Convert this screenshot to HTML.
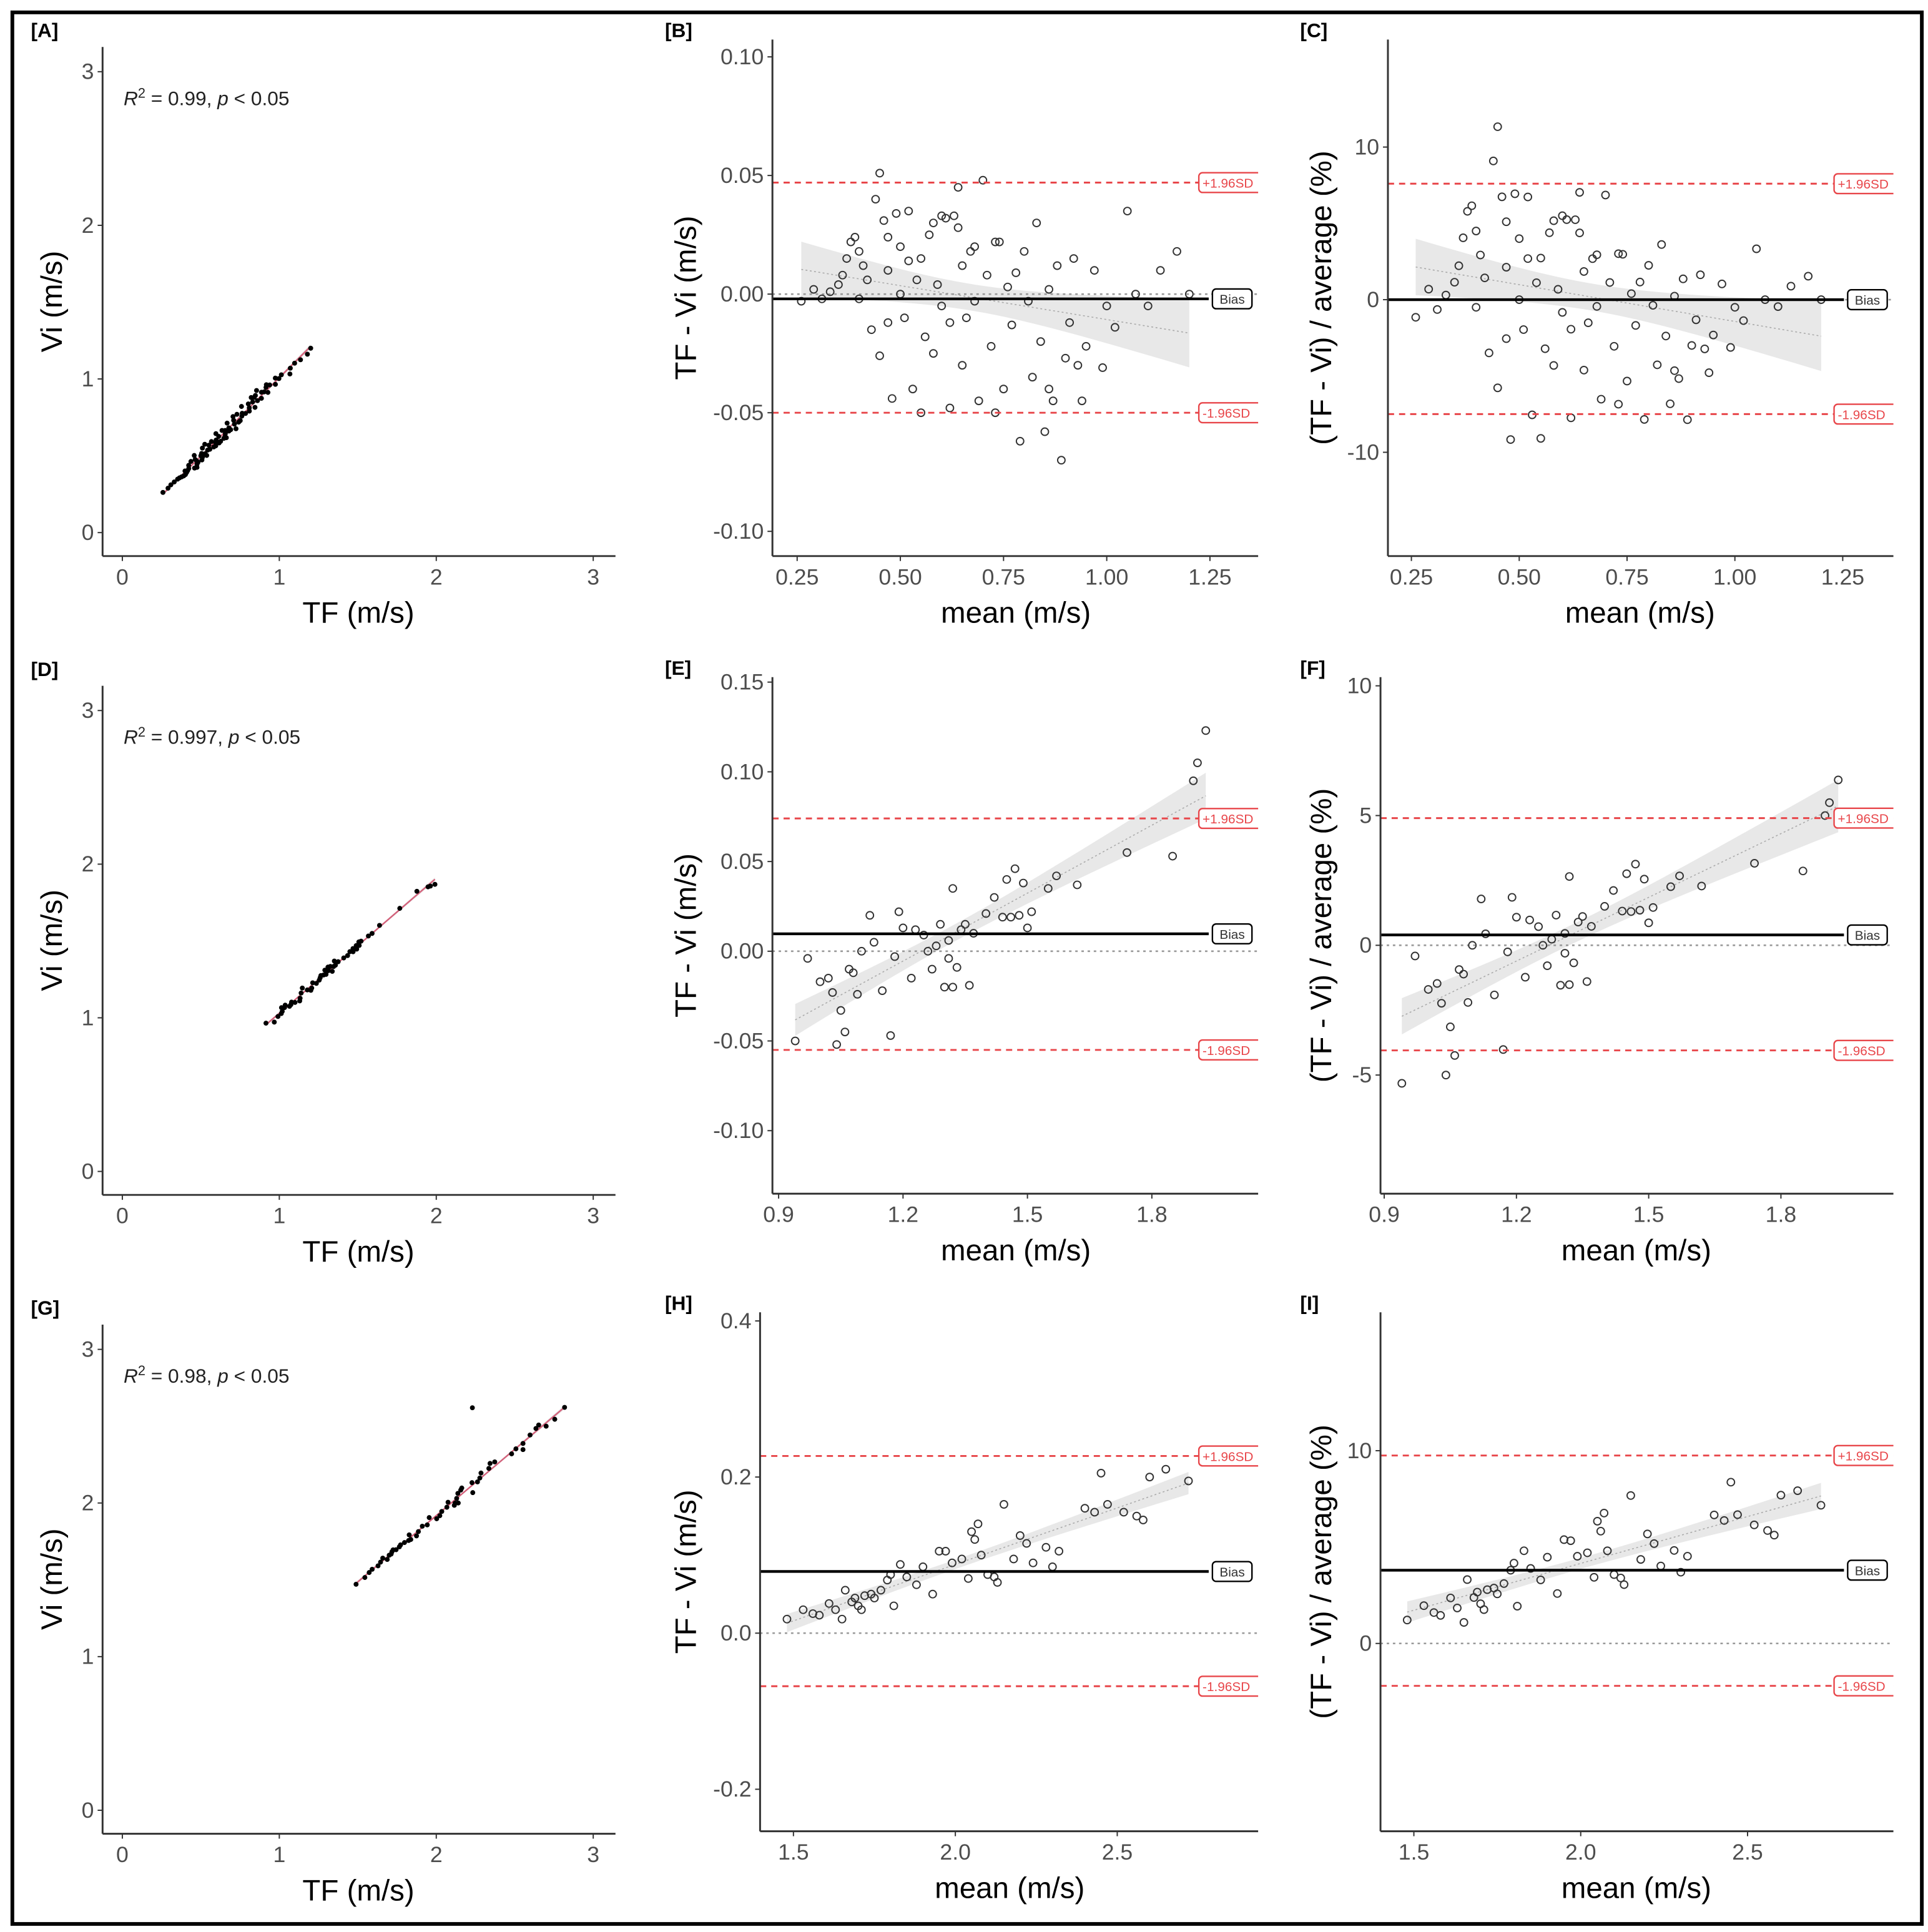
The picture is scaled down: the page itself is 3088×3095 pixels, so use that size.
<!DOCTYPE html>
<html><head><meta charset="utf-8"><style>
html,body{margin:0;padding:0;background:#fff;}
svg{display:block;font-family:"Liberation Sans",sans-serif;}
</style></head><body>
<svg id="fig" width="3088" height="3095" viewBox="0 0 1560 1563.5" xmlns="http://www.w3.org/2000/svg">
<rect x="10" y="10" width="1545" height="1547" fill="#fff" stroke="#000" stroke-width="3"/>
</svg>
<script>
// ---- data (mean, difference) ----
const bMean = [0.26,0.29,0.31,0.33,0.35,0.36,0.37,0.38,0.39,0.40,0.40,0.41,0.42,0.43,0.44,0.45,0.45,0.46,0.47,0.47,0.48,0.49,0.50,0.50,0.51,0.52,0.53,0.54,0.55,0.56,0.57,0.58,0.59,0.60,0.61,0.62,0.62,0.63,0.64,0.65,0.65,0.66,0.67,0.68,0.69,0.70,0.71,0.72,0.73,0.74,0.75,0.76,0.77,0.78,0.79,0.80,0.81,0.82,0.83,0.84,0.85,0.86,0.87,0.88,0.89,0.90,0.91,0.92,0.93,0.95,0.97,0.99,1.00,1.02,1.05,1.07,1.10,1.13,1.17,1.20,0.55,0.60,0.68,0.73,0.47,0.52,0.58,0.64,0.86,0.94];
const bDiff = [-0.003,0.002,-0.002,0.001,0.004,0.008,0.015,0.022,0.024,0.018,-0.002,0.012,0.006,-0.015,0.040,0.051,-0.026,0.031,0.010,-0.012,-0.044,0.034,0.020,0.000,-0.010,0.035,-0.040,0.006,0.015,-0.018,0.025,0.030,0.004,0.033,0.032,-0.048,-0.012,0.033,0.045,0.012,-0.030,-0.010,0.018,-0.003,-0.045,0.048,0.008,-0.022,0.022,0.022,-0.040,0.003,-0.013,0.009,-0.062,0.018,-0.003,-0.035,0.030,-0.020,-0.058,0.002,-0.045,0.012,-0.070,-0.027,-0.012,0.015,-0.030,-0.022,0.010,-0.031,-0.005,-0.014,0.035,0.000,-0.005,0.010,0.018,0.000,-0.050,-0.005,0.020,-0.050,0.024,0.014,-0.025,0.028,-0.040,-0.045];
const eMean = [0.94,0.97,1.00,1.02,1.03,1.04,1.05,1.06,1.07,1.08,1.09,1.10,1.12,1.13,1.15,1.17,1.18,1.19,1.20,1.22,1.23,1.25,1.26,1.27,1.28,1.29,1.30,1.31,1.32,1.33,1.34,1.35,1.36,1.37,1.40,1.42,1.45,1.46,1.47,1.48,1.49,1.50,1.51,1.55,1.57,1.62,1.74,1.85,1.90,1.91,1.93,1.32,1.44,1.31];
const eDiff = [-0.050,-0.004,-0.017,-0.015,-0.023,-0.052,-0.033,-0.045,-0.010,-0.012,-0.024,0.000,0.020,0.005,-0.022,-0.047,-0.003,0.022,0.013,-0.015,0.012,0.009,0.000,-0.010,0.003,0.015,-0.020,0.006,0.035,-0.009,0.012,0.015,-0.019,0.010,0.021,0.030,0.040,0.019,0.046,0.020,0.038,0.013,0.022,0.035,0.042,0.037,0.055,0.053,0.095,0.105,0.123,-0.020,0.019,-0.004];
const hMean = [1.48,1.53,1.56,1.58,1.61,1.63,1.65,1.66,1.68,1.69,1.70,1.71,1.72,1.74,1.75,1.77,1.79,1.80,1.81,1.83,1.85,1.88,1.90,1.93,1.95,1.97,1.99,2.02,2.04,2.05,2.07,2.08,2.10,2.12,2.13,2.15,2.18,2.20,2.22,2.24,2.28,2.30,2.32,2.40,2.43,2.45,2.47,2.52,2.56,2.58,2.60,2.65,2.72,2.06];
const hDiff = [0.018,0.030,0.025,0.023,0.038,0.030,0.018,0.055,0.040,0.045,0.035,0.030,0.048,0.050,0.045,0.055,0.068,0.075,0.035,0.088,0.072,0.062,0.085,0.050,0.105,0.105,0.090,0.095,0.070,0.130,0.140,0.100,0.075,0.072,0.065,0.165,0.095,0.125,0.115,0.090,0.110,0.085,0.105,0.160,0.155,0.205,0.165,0.155,0.150,0.145,0.200,0.210,0.195,0.120];
const gOutlierTF = [2.23];
const gOutlierVi = [2.62];
// limits of agreement [bias, +1.96SD, -1.96SD]
const limB = [-0.002, 0.047, -0.050];
const limC = [0.0, 7.6, -7.5];
const limE = [0.0097, 0.074, -0.055];
const limF = [0.4, 4.9, -4.05];
const limH = [0.079, 0.227, -0.068];
const limI = [3.8, 9.75, -2.2];
const r2Labels = ["0.99","0.997","0.98"];
const xTicksA = [0,1,2,3], yTicksA = [0,1,2,3];
const xTicksB = [0.25,0.50,0.75,1.00,1.25], yTicksB = [-0.10,-0.05,0.00,0.05,0.10];
const yTicksC = [-10,0,10];
const xTicksE = [0.9,1.2,1.5,1.8], yTicksE = [-0.10,-0.05,0.00,0.05,0.10,0.15];
const yTicksF = [-5,0,5,10];
const xTicksH = [1.5,2.0,2.5], yTicksH = [-0.2,0.0,0.2,0.4];
const yTicksI = [0,10];

const NS="http://www.w3.org/2000/svg";
const svg=document.getElementById('fig');
function mk(tag,attrs,parent,text){const e=document.createElementNS(NS,tag);for(const k in attrs)e.setAttribute(k,attrs[k]);if(text!==undefined)e.textContent=text;(parent||svg).appendChild(e);return e;}
function lin(v0,p0,v1,p1){return v=>p0+(v-v0)*(p1-p0)/(v1-v0);}
function fit(xs,ys){const n=xs.length;let mx=0,my=0;for(let i=0;i<n;i++){mx+=xs[i];my+=ys[i];}mx/=n;my/=n;let sxx=0,sxy=0;for(let i=0;i<n;i++){sxx+=(xs[i]-mx)**2;sxy+=(xs[i]-mx)*(ys[i]-my);}const b=sxy/sxx,a=my-b*mx;let ss=0;for(let i=0;i<n;i++)ss+=(ys[i]-a-b*xs[i])**2;const s=Math.sqrt(ss/(n-2));return {a,b,s,mx,sxx,n};}
let clipId=0;
function panel(P){
  const g=mk('g',{});
  
  
  const X=lin(P.xs[0],P.xs[1],P.xs[2],P.xs[3]), Y=lin(P.ys[0],P.ys[1],P.ys[2],P.ys[3]);
  const cid='clip'+(clipId++);
  const cp=mk('clipPath',{id:cid},g);mk('rect',{x:P.left,y:P.top,width:P.right-P.left,height:P.bottom-P.top},cp);
  const plot=mk('g',{'clip-path':'url(#'+cid+')'},g);
  // regression band
  if(P.fx){
    const f=fit(P.fx,P.fy);const lo=Math.min(...P.fx),hi=Math.max(...P.fx);
    let up=[],dn=[];
    for(let k=0;k<=40;k++){const x=lo+(hi-lo)*k/40;const yh=f.a+f.b*x;const se=1.97*f.s*Math.sqrt(1/f.n+(x-f.mx)**2/f.sxx);up.push(X(x)+','+Y(yh+se));dn.unshift(X(x)+','+Y(yh-se));}
    const band=mk('polygon',{points:up.concat(dn).join(' '),fill:'#d9d9d9','fill-opacity':0.6},plot);
    
    
    const rl=mk('line',{x1:X(lo),y1:Y(f.a+f.b*lo),x2:X(hi),y2:Y(f.a+f.b*hi),stroke:P.scatter?'#d4607a':'#aaa','stroke-width':P.scatter?1.2:0.8,'stroke-dasharray':P.scatter?'':'1.5,2'},plot);
    
    
  }
  if(P.lim){
    const z=mk('line',{x1:P.left,x2:P.right,y1:Y(0),y2:Y(0),stroke:'#999','stroke-width':1.3,'stroke-dasharray':'2,3'},plot);
    
    
  }
  // points
  for(let i=0;i<P.px.length;i++){
    const c=P.scatter?mk('circle',{cx:X(P.px[i]),cy:Y(P.py[i]),r:2,fill:'#000'},plot):mk('circle',{cx:X(P.px[i]),cy:Y(P.py[i]),r:3,fill:'none',stroke:'#333','stroke-width':1},plot);
    
    
  }
  if(P.lim){
    const [bias,up,dn]=P.lim;
    const bl=mk('line',{x1:P.left,x2:P.right-40,y1:Y(bias),y2:Y(bias),stroke:'#000','stroke-width':2.2},plot);
    
    
    [[up,'+1.96SD','upper-limit'],[dn,'-1.96SD','lower-limit']].forEach(([v,t,n])=>{
      const l=mk('line',{x1:P.left,x2:P.right,y1:Y(v),y2:Y(v),stroke:'#e8464a','stroke-width':1.5,'stroke-dasharray':'5,4'},plot);
      
      
      mk('rect',{x:P.right-48,y:Y(v)-8,width:60,height:16,rx:3,fill:'#fff',stroke:'#e8464a','stroke-width':1.2},plot);
      const tx=mk('text',{x:P.right-45,y:Y(v)+4,'font-size':10.5,fill:'#e8464a'},plot,t);
      
      
    });
    mk('rect',{x:P.right-37,y:Y(bias)-8,width:32,height:16,rx:3,fill:'#fff',stroke:'#000','stroke-width':1.2},plot);
    const bt=mk('text',{x:P.right-21,y:Y(bias)+4,'font-size':10.5,fill:'#333','text-anchor':'middle'},plot,'Bias');
    
    
  }
  // axes
  mk('line',{x1:P.left,y1:P.top,x2:P.left,y2:P.bottom,stroke:'#333','stroke-width':1.5},g);
  mk('line',{x1:P.left,y1:P.bottom,x2:P.right,y2:P.bottom,stroke:'#333','stroke-width':1.5},g);
  P.xt.forEach(v=>{mk('line',{x1:X(v),x2:X(v),y1:P.bottom,y2:P.bottom+4,stroke:'#333'},g);
    const t=mk('text',{x:X(v),y:P.bottom+23,'font-size':18,fill:'#4d4d4d','text-anchor':'middle'},g,P.xf(v));
    
    });
  P.yt.forEach(v=>{mk('line',{x1:P.left-4,x2:P.left,y1:Y(v),y2:Y(v),stroke:'#333'},g);
    const t=mk('text',{x:P.left-7,y:Y(v)+6,'font-size':18,fill:'#4d4d4d','text-anchor':'end'},g,P.yf(v));
    
    });
  const xt=mk('text',{x:P.xtx,y:P.bottom+54,'font-size':24,fill:'#000','text-anchor':'middle'},g,P.xlab);
  
  
  const yt=mk('text',{x:0,y:0,'font-size':24,fill:'#000','text-anchor':'middle',transform:`translate(${P.ytx},${(P.top+P.bottom)/2}) rotate(-90)`},g,P.ylab);
  
  
  const pl=mk('text',{x:P.lx,y:P.top-P.ltop,'font-size':16,'font-weight':'bold'},g,'['+P.id+']');
  
  
  if(P.r2){
    const r=mk('text',{x:P.left+17,y:P.top+47,'font-size':16,fill:'#222'},g);
    
    
    mk('tspan',{'font-style':'italic'},r,'R');
    mk('tspan',{dy:-6,'font-size':11},r,'2');
    mk('tspan',{dy:6},r,' = '+P.r2+', ');
    mk('tspan',{'font-style':'italic'},r,'p');
    mk('tspan',{},r,' < 0.05');
  }
}
const f0=v=>String(v), f2=v=>v.toFixed(2), f1=v=>v.toFixed(1);
const rows=[[bMean,bDiff],[eMean,eDiff],[hMean,hDiff]];
const tf=(m,d)=>m.map((v,i)=>v+d[i]/2), vi=(m,d)=>m.map((v,i)=>v-d[i]/2), pct=(m,d)=>m.map((v,i)=>d[i]/v*100);
const ids=[['A','B','C'],['D','E','F'],['G','H','I']];
const lims=[[limB,limC],[limE,limF],[limH,limI]];
for(let r=0;r<3;r++){
  const off=517*r;const [m,d]=rows[r];
  let sx=tf(m,d), sy=vi(m,d);
  const fxA=sx.slice(), fyA=sy.slice();
  if(r===2){sx=sx.concat(gOutlierTF);sy=sy.concat(gOutlierVi);}
  panel({id:ids[r][0],left:83,right:498,top:38+off,bottom:450+off,xs:[0,99,3,480],ys:[0,431+off,3,58+off],
    px:sx,py:sy,fx:fxA,fy:fyA,scatter:true,xt:xTicksA,yt:yTicksA,xf:f0,yf:f0,xlab:'TF (m/s)',ylab:'Vi (m/s)',xtx:290,ytx:50,lx:25,ltop:8,r2:r2Labels[r]});
}
panel({id:'B',left:625,right:1018,top:32,bottom:450,xs:[0.25,645,1.25,979],ys:[0.1,46,-0.1,430],px:bMean,py:bDiff,fx:bMean,fy:bDiff,lim:limB,xt:xTicksB,yt:yTicksB,xf:f2,yf:f2,xlab:'mean (m/s)',ylab:'TF - Vi (m/s)',xtx:822,ytx:563,lx:538,ltop:2});
panel({id:'C',left:1123,right:1532,top:32,bottom:450,xs:[0.25,1142,1.25,1491],ys:[10,119,-10,366],px:bMean,py:pct(bMean,bDiff),fx:bMean,fy:pct(bMean,bDiff),lim:limC,xt:xTicksB,yt:yTicksC,xf:f2,yf:f0,xlab:'mean (m/s)',ylab:'(TF - Vi) / average (%)',xtx:1327,ytx:1077,lx:1052,ltop:2});
panel({id:'E',left:625,right:1018,top:548,bottom:966,xs:[0.9,630,1.8,932],ys:[0.15,552,-0.1,915],px:eMean,py:eDiff,fx:eMean,fy:eDiff,lim:limE,xt:xTicksE,yt:yTicksE,xf:f1,yf:f2,xlab:'mean (m/s)',ylab:'TF - Vi (m/s)',xtx:822,ytx:563,lx:538,ltop:2});
panel({id:'F',left:1117,right:1532,top:548,bottom:966,xs:[0.9,1120,1.8,1441],ys:[10,555,-5,870],px:eMean,py:pct(eMean,eDiff),fx:eMean,fy:pct(eMean,eDiff),lim:limF,xt:xTicksE,yt:yTicksF,xf:f1,yf:f0,xlab:'mean (m/s)',ylab:'(TF - Vi) / average (%)',xtx:1324,ytx:1077,lx:1052,ltop:2});
panel({id:'H',left:615,right:1018,top:1062,bottom:1482,xs:[1.5,642,2.5,904],ys:[0.4,1069,-0.2,1448],px:hMean,py:hDiff,fx:hMean,fy:hDiff,lim:limH,xt:xTicksH,yt:yTicksH,xf:f1,yf:f1,xlab:'mean (m/s)',ylab:'TF - Vi (m/s)',xtx:817,ytx:563,lx:538,ltop:2});
panel({id:'I',left:1117,right:1532,top:1062,bottom:1482,xs:[1.5,1144,2.5,1414],ys:[10,1174,0,1330],px:hMean,py:pct(hMean,hDiff),fx:hMean,fy:pct(hMean,hDiff),lim:limI,xt:xTicksH,yt:yTicksI,xf:f1,yf:f0,xlab:'mean (m/s)',ylab:'(TF - Vi) / average (%)',xtx:1324,ytx:1077,lx:1052,ltop:2});
</script>
</body></html>
